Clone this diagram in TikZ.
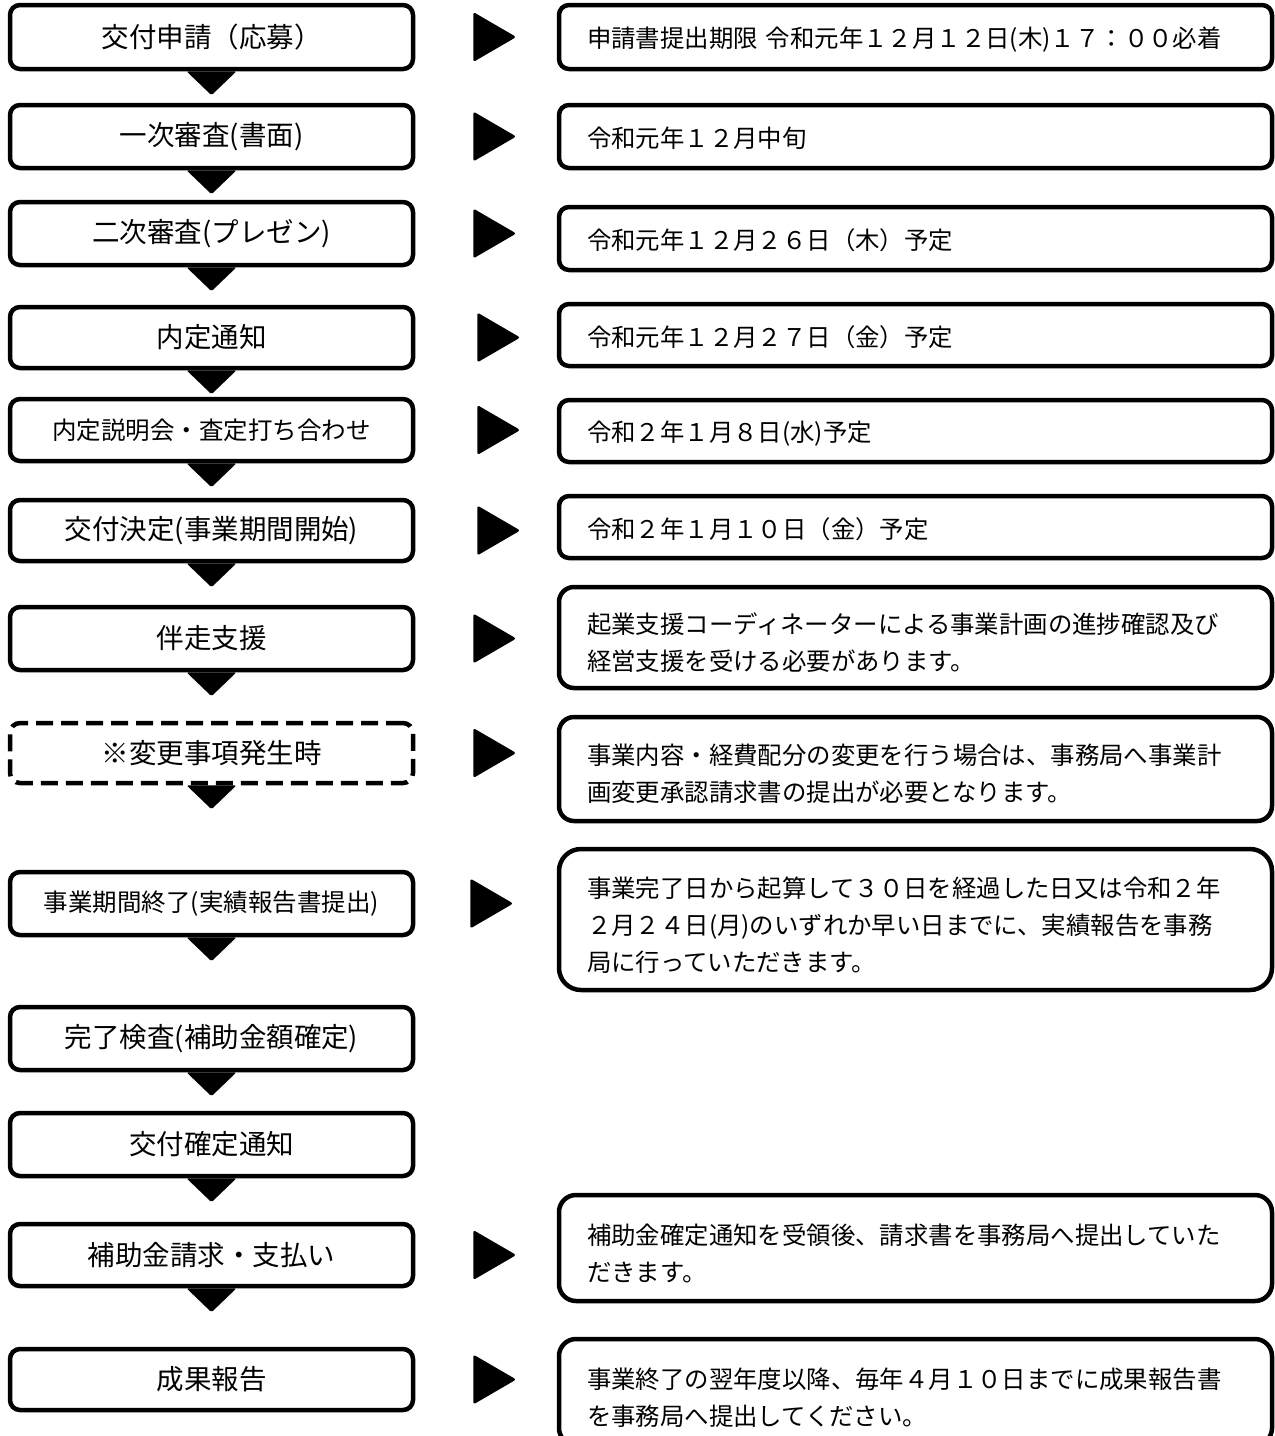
\documentclass[tikz,border=0pt]{standalone}
\usepackage{fontspec}
\newfontfamily\jpfont{Noto Sans CJK JP}
\usetikzlibrary{calc}
\setlength{\parindent}{0pt}
\begin{document}
\begin{tikzpicture}[x=1pt,y=-1pt,
  lbox/.style={draw, line width=4.5pt, rounded corners=10pt, minimum width=403pt,
    align=center, inner sep=0pt, font=\jpfont\fontsize{27.5}{32}\selectfont},
  lsmall/.style={font=\jpfont\fontsize{24.5}{30}\selectfont},
  rbox/.style={draw, line width=4.5pt, rounded corners=10pt, minimum width=713pt,
    text width=657pt, align=left, inner sep=0pt, font=\jpfont\fontsize{24.4}{37}\selectfont,
    execute at begin node={\rule{0pt}{25pt}}},
  rmulti/.style={execute at begin node={\rule{0pt}{31pt}}},
  dashbox/.style={dash pattern=on 17pt off 8pt},
  darr/.style={fill=black, rounded corners=1.5pt},
  rarr/.style={fill=black, rounded corners=2.5pt}]
\useasboundingbox (0,0) rectangle (1275,1436);
\fill[white] (0,0) rectangle (1275,1436);
\clip (0,0) rectangle (1275,1436);

% left column
\node[lbox, minimum height=64pt] (l1) at (211.5,37) {交付申請（応募）};
\node[lbox, minimum height=63pt] (l2) at (211.5,136.5) {一次審査(書面)};
\node[lbox, minimum height=63pt] (l3) at (211.5,233.5) {二次審査(プレゼン)};
\node[lbox, minimum height=61pt] (l4) at (211.5,337.5) {内定通知};
\node[lbox, lsmall, minimum height=62pt] (l5) at (211.5,430) {内定説明会・査定打ち合わせ};
\node[lbox, minimum height=61pt] (l6) at (211.5,530.5) {交付決定(事業期間開始)};
\node[lbox, minimum height=63pt] (l7) at (211.5,638.5) {伴走支援};
\node[lbox, dashbox, minimum height=60pt] (l8) at (211.5,753) {※変更事項発生時};
\node[lbox, lsmall, minimum height=63pt] (l9) at (211.5,903.5) {事業期間終了(実績報告書提出)};
\node[lbox, minimum height=63pt] (l10) at (211.5,1038.5) {完了検査(補助金額確定)};
\node[lbox, minimum height=63pt] (l11) at (211.5,1144.5) {交付確定通知};
\node[lbox, minimum height=62pt] (l12) at (211.5,1255) {補助金請求・支払い};
\node[lbox, minimum height=61pt] (l13) at (211.5,1379.5) {成果報告};

% right column
\node[rbox, minimum height=64pt] (r1) at (915.5,37) {申請書提出期限~令和元年１２月１２日(木)１７：００必着};
\node[rbox, minimum height=63pt] (r2) at (915.5,136.5) {令和元年１２月中旬};
\node[rbox, minimum height=63pt] (r3) at (915.5,238.5) {令和元年１２月２６日（木）予定};
\node[rbox, minimum height=62pt] (r4) at (915.5,335) {令和元年１２月２７日（金）予定};
\node[rbox, minimum height=62pt] (r5) at (915.5,431) {令和２年１月８日(水)予定};
\node[rbox, minimum height=62pt] (r6) at (915.5,527) {令和２年１月１０日（金）予定};
\node[rbox, rmulti, rounded corners=15pt, minimum height=101pt] (r7) at (915.5,637.5)
  {起業支援コーディネーターによる事業計画の進捗確認及び\\経営支援を受ける必要があります。};
\node[rbox, rmulti, rounded corners=15pt, minimum height=104pt] (r8) at (915.5,769)
  {事業内容・経費配分の変更を行う場合は、事務局へ事業計\\画変更承認請求書の提出が必要となります。};
\node[rbox, rmulti, rounded corners=22pt, minimum height=141pt] (r9) at (915.5,919.5)
  {事業完了日から起算して３０日を経過した日又は令和２年\\２月２４日(月)のいずれか早い日までに、実績報告を事務\\局に行っていただきます。};
\node[rbox, rmulti, rounded corners=17pt, minimum height=106pt] (r12) at (915.5,1248)
  {補助金確定通知を受領後、請求書を事務局へ提出していた\\だきます。};
\node[rbox, rmulti, rounded corners=17pt, minimum height=106pt] (r13) at (915.5,1392)
  {事業終了の翌年度以降、毎年４月１０日までに成果報告書\\を事務局へ提出してください。};

% downward arrows between steps
\foreach \a/\b in {1/2,2/3,3/4,4/5,5/6,6/7,7/8,8/9,9/10,10/11,11/12,12/13}{
  \fill[darr] ($(l\a.south)+(-25,0)$) -- ($(l\a.south)+(25,0)$) -- ($(l\a.south)+(0,24)$) -- cycle;
}

% rightward arrows from step to note
\foreach \i/\dx in {1/58,2/58,3/58,4/62,5/62,6/62,7/58,8/58,9/55,12/58,13/58}{
  \fill[rarr] ($(l\i.east)+(\dx,-25)$) -- ($(l\i.east)+(\dx+43,0)$) -- ($(l\i.east)+(\dx,25)$) -- cycle;
}
\end{tikzpicture}
\end{document}
